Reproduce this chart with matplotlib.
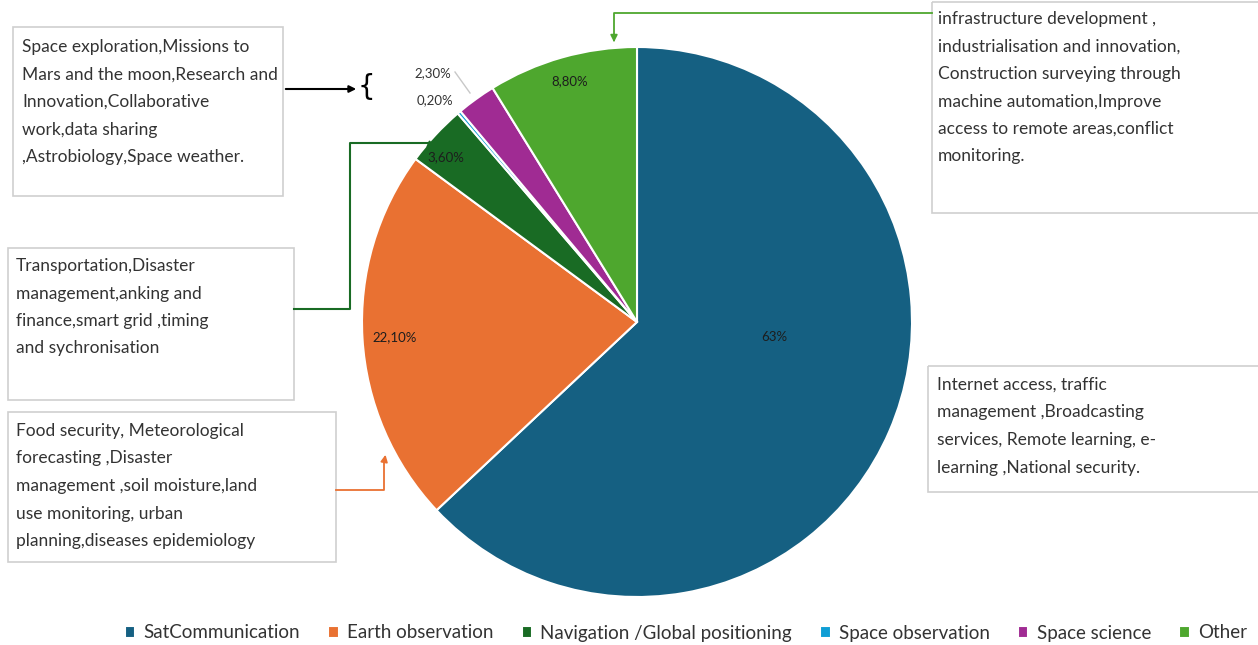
import matplotlib
matplotlib.use("Agg")
import matplotlib.pyplot as plt
from matplotlib.patches import Rectangle

plt.rcParams['font.family'] = ['Lato', 'DejaVu Sans']

# share of space applications
categories = ["SatCommunication", "Earth observation", "Navigation /Global positioning",
              "Space observation", "Space science", "Other"]
shares = [63.0, 22.1, 3.6, 0.2, 2.3, 8.8]
share_labels = ["63%", "22,10%", "3,60%", "0,20%", "2,30%", "8,80%"]
colors = ["#156082", "#E97132", "#196B24", "#0F9ED5", "#A02B93", "#4EA72E"]

# label placement inside the pie (data units, radius 1)
label_pos = [(0.50, -0.055), (-0.88, -0.055), (-0.695, 0.60),
             (-0.735, 0.807), (-0.742, 0.905), (-0.244, 0.876)]

W, H = 1258, 645
fig = plt.figure(figsize=(W / 100, H / 100), dpi=100)

cx, cy, R = 637, 322, 275
ax = fig.add_axes([(cx - R) / W, 1 - (cy + R) / H, 2 * R / W, 2 * R / H])
wedges, _ = ax.pie(shares, colors=colors, startangle=90, counterclock=False,
                   wedgeprops=dict(edgecolor="white", linewidth=1.5))
ax.set_xlim(-1, 1)
ax.set_ylim(-1, 1)
ax.set_aspect("equal")

for i, (txt, (x, y)) in enumerate(zip(share_labels, label_pos)):
    col = "#333333" if i in (3, 4) else "#1d1d1d"
    ax.text(x, y, txt, ha="center", va="center", fontsize=9.5, color=col)

# overlay in pixel coordinates for boxes and leader lines
ov = fig.add_axes([0, 0, 1, 1], facecolor="none")
ov.set_xlim(0, W)
ov.set_ylim(H, 0)
ov.axis("off")

boxes = [
    ((13, 27, 283, 196), 22, 47, ["Space exploration,Missions to",
                                 "Mars and the moon,Research and",
                                 "Innovation,Collaborative",
                                 "work,data sharing",
                                 ",Astrobiology,Space weather."]),
    ((932, 2, 1262, 213), 938, 19, ["infrastructure development ,",
                                   "industrialisation and innovation,",
                                   "Construction surveying through",
                                   "machine automation,Improve",
                                   "access to remote areas,conflict",
                                   "monitoring."]),
    ((8, 248, 294, 400), 16, 266, ["Transportation,Disaster",
                                  "management,anking and",
                                  "finance,smart grid ,timing",
                                  "and sychronisation"]),
    ((8, 412, 336, 562), 16, 431, ["Food security, Meteorological",
                                  "forecasting ,Disaster",
                                  "management ,soil moisture,land",
                                  "use monitoring, urban",
                                  "planning,diseases epidemiology"]),
    ((928, 366, 1262, 492), 937, 385, ["Internet access, traffic",
                                      "management ,Broadcasting",
                                      "services, Remote learning, e-",
                                      "learning ,National security."]),
]
for (x0, y0, x1, y1), tx, ty, lines in boxes:
    ov.add_patch(Rectangle((x0, y0), x1 - x0, y1 - y0, fill=False,
                           edgecolor="#cfcfcf", linewidth=1.2))
    for k, line in enumerate(lines):
        ov.text(tx, ty + k * 27.5, line, ha="left", va="center",
                fontsize=12.5, color="#333333")

# leader lines
ov.plot([932, 614, 614], [13, 13, 38], color="#4EA72E", lw=1.3)
ov.annotate("", xy=(614, 45), xytext=(614, 36),
            arrowprops=dict(arrowstyle="-|>", color="#4EA72E", lw=1.3))
ov.plot([294, 350, 350, 428], [309, 309, 143, 143], color="#196B24", lw=1.5)
ov.annotate("", xy=(438, 148), xytext=(426, 143),
            arrowprops=dict(arrowstyle="-|>", color="#196B24", lw=1.3))
ov.plot([336, 384, 384], [490, 490, 462], color="#E97132", lw=1.3)
ov.annotate("", xy=(386, 452), xytext=(384, 463),
            arrowprops=dict(arrowstyle="-|>", color="#E97132", lw=1.3))
ov.annotate("", xy=(359, 89), xytext=(283, 89),
            arrowprops=dict(arrowstyle="-|>", color="black", lw=1.5))
ov.text(366, 87, "{", ha="center", va="center", fontsize=20, color="black",
        family="DejaVu Sans")
ov.plot([455, 470], [72, 93], color="#c8c8c8", lw=1.0)

fig.legend(wedges, categories, loc="center", bbox_to_anchor=(686 / W, 1 - 633 / H),
           ncol=6, frameon=False, fontsize=13.5, handlelength=0.55, handleheight=0.55,
           columnspacing=1.5, handletextpad=0.45, labelcolor="#333333")

fig.savefig("out.png", dpi=100)
